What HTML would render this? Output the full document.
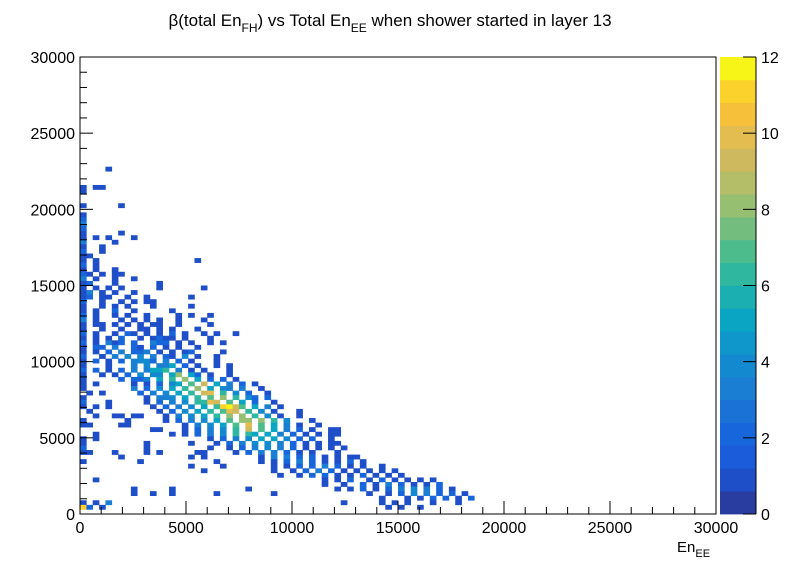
<!DOCTYPE html>
<html><head><meta charset="utf-8"><style>
body{margin:0;background:#fff;}
svg{display:block;font-family:"Liberation Sans",Arial,sans-serif;}
</style></head><body>
<svg id="c" width="796" height="572" xmlns="http://www.w3.org/2000/svg">
<rect x="0" y="0" width="796" height="572" fill="#fff"/>
<text x="390" y="26" font-size="17" text-anchor="middle">β(total En<tspan font-size="12" dy="6">FH</tspan><tspan dy="-6">) vs Total En</tspan><tspan font-size="12" dy="6">EE</tspan><tspan dy="-6"> when  shower started in layer 13</tspan></text>
<g id="cells"></g>
<g id="axes"></g>
<g id="cbar"></g>
<text x="677" y="552" font-size="15">En<tspan font-size="11" dy="5">EE</tspan></text>
</svg>
<script>
// axis ranges / binning
const xRange = [0, 30000];
const yRange = [0, 30000];
const nBinsX = 100, nBinsY = 100;
const xTicks = [0, 5000, 10000, 15000, 20000, 25000, 30000];
const yTicks = [0, 5000, 10000, 15000, 20000, 25000, 30000];
const zTicks = [0, 2, 4, 6, 8, 10, 12];
const zMax = 12;
// bin contents: one string per y-bin (top row first), char index = x-bin; '.'=empty, a=10,b=11,c=12
const rowStartY = 75;
const rows = [
"....1","","","","1.11","1","","","1.....1","","1","2","3","2","1.....1","1.1.1...1","3....1","1..1","2..1","11",
"1.1...............1","2.1","1.1..1","21.1.11","3.1..1..1","12...1......1","1.1.1.1.....1......1","13.1.1..1","12.11..1..1......1","2..1..1.1.11",
"1..1.1.1...1.....1","1.1..2..1.....1","2.1..1.1..1....1.1..1","3.1...1.1.1.1..1...1","1.11.1.1.1.11..1....1","1..1..1..11.1.1...1","2.1..1.21.1.1.2.1..1.1..1","1.1.1.2..1.1211.1...1","2.1.312.2..322.1.1..1.1","1.22.3..21.2.1.1..1",
"1.1.2.3.223.1.1.12....1","2..1.3.4.4.3.21.4.1..1","1.2.1.2.3442.3.2.1...1","1...1...3.4.335.2.1..1.1","2.2.1.2.3.3556.3.1.1...1","1..1.1.2.4.44.58.52.1..1","1.....2.223.5.6.8.5.2.2.1","1.1.....1.1.2.45.7.9.5.3.2.1","1.......3.2.4.5.6.8.5.43.3..1",".1.1.....2.3.4.5.6.9a.6.4.2..1",
"1.........1.334.5.6.7.8.6.42.2","2...1.....1.2.3.4.66a9.7.5.2..1","1.1.1......1.2.3.4.5.6bc97.5.3.1",".1..........1.2.4.5.6.7a9.6.4.1...1","..1..11.11...1.3.4.5.6.8.8.6.4.1..1","1......1.....1.2.3.4.5.7.88.8.6.4...1","11....11........1.3.4.5.7.a.7.5.3.1..1","...........11...1.2.3.4.6.9.7.5.3.2.1..11","..1...........1.1.2.3.4.6.65.5.3.2.1.1.11","1.1.................1.2.3.4.5.5.4.2.2..1",
"1.........1......1...1.2.3.4.4.3.2.1.1.11","2.........1.........1..1.2.3.4.3.2.1.1.1.1","11...1....1.1.....11....1.2.3.3.2.1.1...1","......1..........1.1........1.3.3.2.2.1.1.11","1........1...........1......1.1.2.3.2.1.1.2.1",".................1....1.......1.1.2.2.3.2.1.1..1","...................1..........1..1.2.3.2.1.1.1.1.1","...............................1..1.2.2.1.1.2.1.1.1","..1...................................1.1.2..1.2.1.1.1.1","......................................1..1..2.1.3.2.1.1.2",
"........1.....1...........1.............1.1.2.1.2.3.4.3.2.1","........1..1..1......1........1..............1..1.2.4.3.2.2.1","...............................................1...1.1.2.2.1.2","1.1.3....................................1.....1.1.1...1...1","b2.1............................................1.1..1"
];
const palette = ["#283d9f","#1f4fc8","#1a5cd9","#1766db","#1a72d6","#1a7ed3","#1389cf","#0f97cc","#0ba5c4","#1cafb2","#2fb7a0","#4dbc8d","#73be7f","#96bf72","#b4bd68","#cfb95e","#e4bd50","#f6c03b","#fbd22c","#f7f418"];
const X0 = 80, X1 = 716, Y0 = 514, Y1 = 57;
function sx(v){return X0 + (v - xRange[0]) / (xRange[1] - xRange[0]) * (X1 - X0);}
function sy(v){return Y0 - (v - yRange[0]) / (yRange[1] - yRange[0]) * (Y0 - Y1);}
const NS = "http://www.w3.org/2000/svg";
function mk(tag, at, parent){const e=document.createElementNS(NS,tag);for(const k in at)e.setAttribute(k,at[k]);parent.appendChild(e);return e;}
function colorFor(c){let b=Math.floor(c/(zMax/palette.length));if(b>=palette.length)b=palette.length-1;return palette[b];}
const bw = (xRange[1]-xRange[0])/nBinsX, bh = (yRange[1]-yRange[0])/nBinsY;
const cells = document.getElementById('cells');
rows.forEach((r, i) => {
  const iy = rowStartY - i;
  for (let ix = 0; ix < r.length; ix++) {
    const ch = r[ix];
    if (ch === '.') continue;
    const c = parseInt(ch, 16);
    const x0 = sx(ix*bw), x1 = sx((ix+1)*bw), y0 = sy((iy+1)*bh), y1 = sy(iy*bh);
    const e = mk('rect', {x:x0.toFixed(2), y:y0.toFixed(2), width:(x1-x0+0.3).toFixed(2), height:(y1-y0+0.3).toFixed(2), fill:colorFor(c)}, cells);
    
    
  }
});
const ax = document.getElementById('axes');
const fr = mk('rect', {x:X0, y:Y1, width:X1-X0, height:Y0-Y1, fill:'none', stroke:'#000', 'stroke-width':1}, ax);


for (let v = xRange[0]; v <= xRange[1]; v += 1000) {
  const major = v % 5000 === 0;
  mk('line', {x1:sx(v), x2:sx(v), y1:Y0, y2:Y0-(major?13:7), stroke:'#000', 'stroke-width':1}, ax);
}
for (let v = yRange[0]; v <= yRange[1]; v += 1000) {
  const major = v % 5000 === 0;
  mk('line', {x1:X0, x2:X0+(major?13:7), y1:sy(v), y2:sy(v), stroke:'#000', 'stroke-width':1}, ax);
}
xTicks.forEach(v => {
  const t = mk('text', {x:sx(v), y:Y0+19, 'font-size':16, 'text-anchor':'middle'}, ax);
  t.textContent = v;
  
  
});
yTicks.forEach(v => {
  const t = mk('text', {x:X0-5, y:sy(v)+6, 'font-size':16, 'text-anchor':'end'}, ax);
  t.textContent = v;
  
  
});
const cb = document.getElementById('cbar');
const CX0 = 720, CX1 = 756;
const bandH = (Y0 - Y1) / palette.length;
palette.forEach((col, i) => {
  const e = mk('rect', {x:CX0, y:(Y0 - (i+1)*bandH).toFixed(2), width:CX1-CX0, height:(bandH+0.4).toFixed(2), fill:col}, cb);
  
  
});
mk('line', {x1:CX1, x2:CX1, y1:Y1, y2:Y0, stroke:'#000', 'stroke-width':1}, cb);
zTicks.forEach(v => {
  const y = Y0 - v / zMax * (Y0 - Y1);
  mk('line', {x1:CX1-13, x2:CX1, y1:y, y2:y, stroke:'#000', 'stroke-width':1}, cb);
  const t = mk('text', {x:CX1+5, y:y+6, 'font-size':16}, cb);
  t.textContent = v;
  
  
});
</script>
</body></html>
